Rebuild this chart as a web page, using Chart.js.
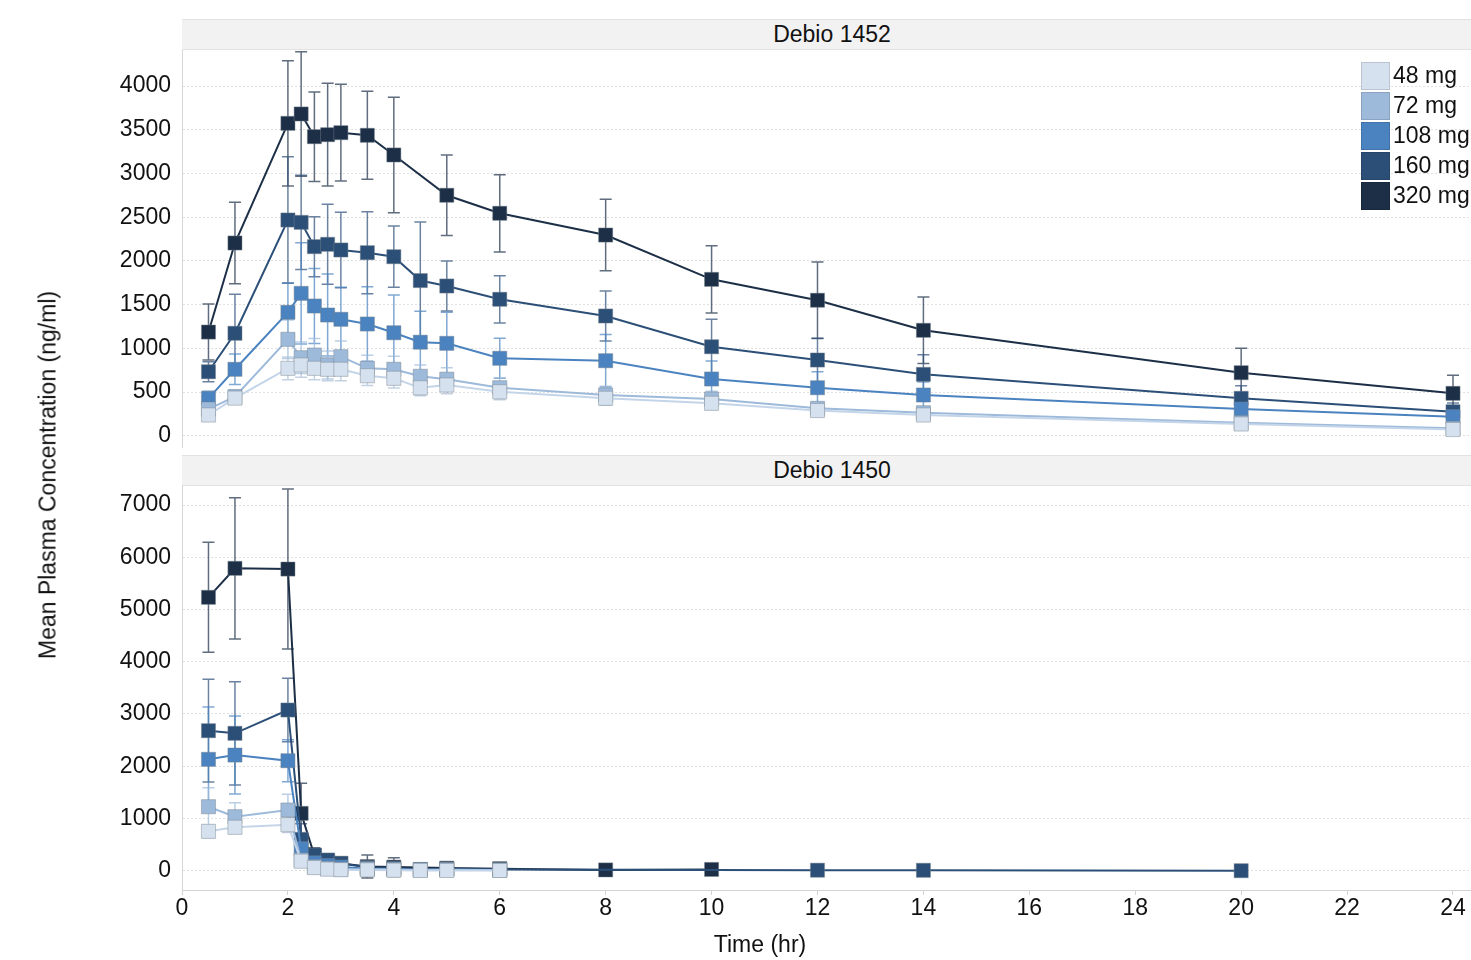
<!DOCTYPE html>
<html>
<head>
<meta charset="utf-8">
<script src="https://cdn.jsdelivr.net/npm/chart.js@4.4.1/dist/chart.umd.min.js"></script>
<style>
  html, body { margin:0; padding:0; background:#fff; width:1471px; height:960px; overflow:hidden;
    font-family:"Liberation Sans", Arial, sans-serif; color:#111; }
  .wrap { position:absolute; left:0; width:1471px; }
  #wrapTop { top:0; height:470px; }
  #wrapBot { top:460px; height:500px; }
  .strip { position:absolute; left:182px; width:1300px; height:29px; background:#f2f2f2;
    border-top:1px solid #e2e2e2; border-bottom:1px solid #e2e2e2; font-size:23px; line-height:29px;
    text-align:center; color:#111; }
  #ytitle { position:absolute; left:48px; top:475px; transform:translate(-50%,-50%) rotate(-90deg);
    white-space:nowrap; font-size:23px; color:#111; }
  #xtitle { position:absolute; left:760px; top:930px; transform:translateX(-50%); white-space:nowrap;
    font-size:23px; line-height:28px; color:#111; }
  #legend { position:absolute; left:1361px; top:61px; }
  .lrow { position:relative; height:30px; white-space:nowrap; }
  .lbox { position:absolute; left:0; top:1px; width:27px; height:26px; border:1px solid rgba(0,0,0,0.12); }
  .ltxt { position:absolute; left:32px; top:0; font-size:23px; line-height:28px; color:#111; }
</style>
</head>
<body>
<div class="strip" style="top:19px;">Debio 1452</div>
<div class="strip" style="top:455px;">Debio 1450</div>
<div class="wrap" id="wrapTop"><canvas id="cTop"></canvas></div>
<div class="wrap" id="wrapBot"><canvas id="cBot"></canvas></div>
<div id="ytitle">Mean Plasma Concentration (ng/ml)</div>
<div id="xtitle">Time (hr)</div>
<div id="legend"></div>
<script>
// ---------- data ----------
const times = [0.5, 1, 2, 2.25, 2.5, 2.75, 3, 3.5, 4, 4.5, 5, 6, 8, 10, 12, 14, 20, 24];
const doseLabels = ['48 mg', '72 mg', '108 mg', '160 mg', '320 mg'];
const panelTitles = ['Debio 1452', 'Debio 1450'];
const xTicks = [0, 2, 4, 6, 8, 10, 12, 14, 16, 18, 20, 22, 24];
const yTicksTop = [0, 500, 1000, 1500, 2000, 2500, 3000, 3500, 4000];
const yTicksBot = [0, 1000, 2000, 3000, 4000, 5000, 6000, 7000];

// Debio 1452 (top panel) means and SDs
const top48  = [237, 430, 771, 809, 771, 760, 760, 686, 657, 548, 580, 503, 428, 371, 288, 237, 134, 71];
const top72  = [305, 446, 1103, 892, 923, 809, 904, 771, 760, 680, 647, 549, 466, 420, 313, 263, 149, 85];
const top108 = [428, 760, 1412, 1629, 1484, 1381, 1332, 1278, 1178, 1070, 1057, 886, 858, 649, 549, 466, 305, 218];
const top160 = [732, 1172, 2468, 2441, 2163, 2190, 2125, 2094, 2048, 1775, 1713, 1561, 1370, 1018, 866, 702, 428, 275];
const top320 = [1186, 2205, 3574, 3681, 3421, 3444, 3467, 3437, 3212, null, 2751, 2545, 2296, 1789, 1550, 1206, 721, 485];
const topSd48  = [40, 60, 130, 140, 130, 130, 130, 110, 110, 90, 100, 90, 80, 70, 55, 45, 30, 20];
const topSd72  = [60, 80, 220, 180, 190, 160, 180, 150, 150, 130, 130, 110, 100, 90, 70, 60, 40, 30];
const topSd108 = [80, 175, 338, 580, 430, 470, 366, 427, 432, 355, 355, 228, 300, 206, 183, 150, 100, 70];
const topSd160 = [115, 446, 724, 540, 343, 457, 431, 469, 350, 670, 286, 270, 286, 314, 248, 225, 144, 100];
const topSd320 = [320, 465, 717, 713, 512, 588, 553, 503, 660, null, 460, 442, 409, 385, 437, 380, 280, 206];

// Debio 1450 (bottom panel) means and SDs
const bot48  = [754, 831, 881, 182, 60, 30, 20, 15, 10, 5, 5, 5, null, null, null, null, null, null];
const bot72  = [1225, 1034, 1162, 205, 77, 45, 25, 35, 25, 15, 20, 10, null, null, null, null, null, null];
const bot108 = [2132, 2214, 2105, 420, 150, 100, 70, 40, 30, 20, 25, 15, null, null, null, null, null, null];
const bot160 = [2680, 2630, 3076, 601, 300, 205, 141, 60, 50, 25, 35, 25, null, null, 10, 8, 0, null];
const bot320 = [5233, 5788, 5774, 1098, 290, 180, 140, 80, 70, null, 50, 40, 15, 25, null, null, null, null];
const botSd48  = [120, 100, 150, 80, 20, 15, 10, 8, 5, 5, 5, 5, null, null, null, null, null, null];
const botSd72  = [364, 267, 300, 100, 30, 20, 15, 15, 10, 8, 8, 5, null, null, null, null, null, null];
const botSd108 = [1000, 747, 400, 200, 60, 40, 30, 20, 15, 10, 10, 8, null, null, null, null, null, null];
const botSd160 = [983, 987, 606, 300, 100, 60, 40, 30, 25, 15, 20, 15, null, null, 5, 5, 0, null];
const botSd320 = [1052, 1351, 1531, 575, 150, 120, 100, 220, 180, null, 60, 50, 20, 30, null, null, null, null];

// ---------- styles ----------
const seriesColors = ['#d5e1ef', '#9dbadb', '#4a83c0', '#2c4f78', '#1c2f47'];
const lineColors   = ['#c4d5e9', '#9dbadb', '#4a83c0', '#2c4f78', '#1c2f47'];
const FONT = '"Liberation Sans", Arial, sans-serif';

function hexA(hex, a) {
  const n = parseInt(hex.slice(1), 16);
  return `rgba(${(n >> 16) & 255},${(n >> 8) & 255},${n & 255},${a})`;
}

function buildDatasets(means, sds) {
  return means.map((vals, k) => ({
    label: doseLabels[k],
    data: times.map((t, i) => ({ x: t, y: vals[i] })),
    errors: sds[k],
    borderColor: lineColors[k],
    backgroundColor: seriesColors[k],
    borderWidth: 2,
    pointStyle: 'rect',
    pointRadius: 10,
    pointHoverRadius: 10,
    pointBackgroundColor: seriesColors[k],
    pointBorderColor: 'rgba(120,130,140,0.45)',
    pointBorderWidth: 1,
    spanGaps: true,
    tension: 0,
    clip: 12,
    errorColor: hexA(k === 0 ? '#a9bdd6' : seriesColors[k], 0.7)
  }));
}

const errorBars = {
  id: 'errorBars',
  beforeDatasetsDraw(chart) {
    const ctx = chart.ctx, xs = chart.scales.x, ys = chart.scales.y, a = chart.chartArea;
    ctx.save();
    ctx.beginPath();
    ctx.rect(a.left, a.top, a.right - a.left, a.bottom - a.top);
    ctx.clip();
    const n = chart.data.datasets.length;
    for (let k = n - 1; k >= 0; k--) {
      const ds = chart.data.datasets[k];
      ctx.strokeStyle = ds.errorColor;
      ctx.lineWidth = 1.5;
      ds.data.forEach((p, i) => {
        const sd = ds.errors[i];
        if (p.y == null || sd == null) return;
        const x = xs.getPixelForValue(p.x);
        const y1 = ys.getPixelForValue(p.y + sd);
        const y2 = ys.getPixelForValue(p.y - sd);
        ctx.beginPath();
        ctx.moveTo(x, y1); ctx.lineTo(x, y2);
        ctx.moveTo(x - 6, y1); ctx.lineTo(x + 6, y1);
        ctx.moveTo(x - 6, y2); ctx.lineTo(x + 6, y2);
        ctx.stroke();
      });
    }
    ctx.restore();
  }
};

function makeChart(id, datasets, yMin, yMax, yTicks, showX, padTop, padBottom) {
  return new Chart(document.getElementById(id), {
    type: 'line',
    data: { datasets },
    plugins: [errorBars],
    options: {
      responsive: true,
      maintainAspectRatio: false,
      animation: false,
      layout: { autoPadding: false, padding: { top: padTop, bottom: padBottom, left: 0, right: 0 } },
      plugins: { legend: { display: false }, tooltip: { enabled: false } },
      scales: {
        x: {
          type: 'linear', min: 0, max: 24.34,
          display: showX,
          afterFit(s) { if (showX) s.height = 70; s.paddingLeft = 0; s.paddingRight = 0; },
          afterBuildTicks(s) { s.ticks = xTicks.map(v => ({ value: v })); },
          grid: { display: true, drawOnChartArea: false, drawTicks: true, tickLength: 5,
                  tickColor: '#d3d3d3', tickWidth: 1 },
          border: { display: true, color: '#d3d3d3', width: 1 },
          ticks: { font: { family: FONT, size: 23 }, color: '#111', padding: 0,
                   maxRotation: 0, autoSkip: false, callback: v => String(v) }
        },
        y: {
          type: 'linear', min: yMin, max: yMax,
          afterFit(s) { s.width = 182; s.paddingTop = 0; s.paddingBottom = 0; },
          afterBuildTicks(s) { s.ticks = yTicks.map(v => ({ value: v })); },
          ticks: { font: { family: FONT, size: 23 }, color: '#111', padding: 11,
                   autoSkip: false, callback: v => String(v) },
          grid: { color: '#e0e0e0', lineWidth: 1, drawTicks: false },
          border: { display: true, color: '#d6d6d6', width: 1, dash: [2, 2] }
        }
      }
    }
  });
}

makeChart('cTop', buildDatasets([top48, top72, top108, top160, top320],
  [topSd48, topSd72, topSd108, topSd160, topSd320]), -129, 4413, yTicksTop, false, 50, 23);
makeChart('cBot', buildDatasets([bot48, bot72, bot108, bot160, bot320],
  [botSd48, botSd72, botSd108, botSd160, botSd320]), -369, 7383, yTicksBot, true, 25, 0);

// legend
const leg = document.getElementById('legend');
doseLabels.forEach((lab, k) => {
  const row = document.createElement('div');
  row.className = 'lrow';
  row.innerHTML = `<div class="lbox" style="background:${seriesColors[k]}"></div><div class="ltxt">${lab}</div>`;
  leg.appendChild(row);
});
</script>
</body>
</html>
